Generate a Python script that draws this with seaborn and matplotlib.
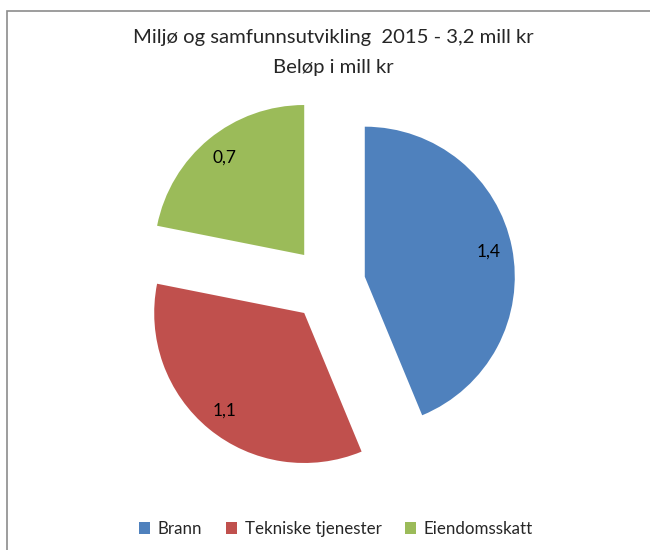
import matplotlib
matplotlib.use("Agg")
import matplotlib.pyplot as plt
import seaborn as sns
from matplotlib.patches import Rectangle

categories = ["Brann", "Tekniske tjenester", "Eiendomsskatt"]
values = [1.4, 1.1, 0.7]
title_lines = ["Miljø og samfunnsutvikling  2015 - 3,2 mill kr", "Beløp i mill kr"]
colors_hex = ["#4F81BD", "#C0504D", "#9BBB59"]

sns.set_theme(style="white")
plt.rcParams['font.family'] = ['Lato', 'DejaVu Sans']
palette = sns.color_palette(colors_hex)

fig = plt.figure(figsize=(6.5, 5.5), dpi=100)
fig.patch.set_facecolor("white")

# border frame
fig.patches.append(Rectangle((7/650, -0.1), 1.2, 1 - 11/550 + 0.1,
                             transform=fig.transFigure, fill=False,
                             edgecolor="#8c8c8c", linewidth=1.2, zorder=0))

ax = fig.add_axes([103/650, 41/550, 450/650, 450/550])
total = sum(values)
wedges, texts, autotexts = ax.pie(
    values, colors=palette, startangle=90, counterclock=False,
    explode=[0.25] * len(values),
    autopct=lambda p: f"{p * total / 100:.1f}".replace(".", ","),
    pctdistance=0.84, textprops=dict(fontsize=12.5, color="black"),
    wedgeprops=dict(linewidth=0))
ax.set_aspect("auto")
ax.set_xlim(-1.5, 1.5)
ax.set_ylim(-1.5, 1.5)
ax.axis("off")

fig.text(333/650, 1 - 38/550, title_lines[0], ha="center", va="center", fontsize=14.6)
fig.text(333/650, 1 - 67/550, title_lines[1], ha="center", va="center", fontsize=14.6)

fig.legend(wedges, categories, loc="center", bbox_to_anchor=(336/650, 1 - 529/550),
           ncol=3, frameon=False, fontsize=12.2, handlelength=0.65, handleheight=0.65,
           handletextpad=0.45, columnspacing=1.4)

fig.savefig("out.png", dpi=100)
